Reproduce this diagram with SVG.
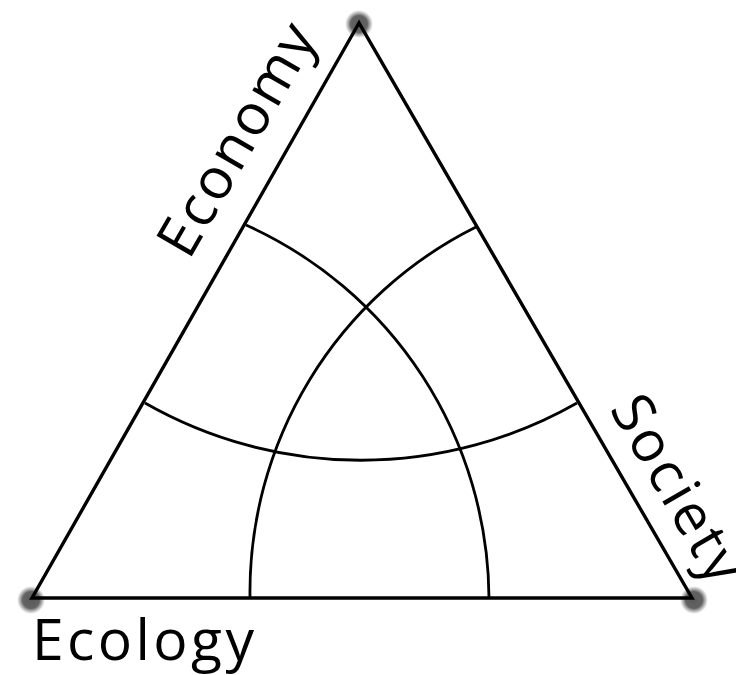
<svg xmlns="http://www.w3.org/2000/svg" width="736" height="675" viewBox="0 0 736 675">
<defs>
<radialGradient id="dg">
<stop offset="0" stop-color="#5a5a5a"/>
<stop offset="0.6" stop-color="#636363"/>
<stop offset="1" stop-color="#7a7a7a" stop-opacity="0"/>
</radialGradient>
<style>
.dot{fill:url(#dg)}
.edge{fill:none;stroke:#000;stroke-width:3.4;stroke-linejoin:miter}
.arc{fill:none;stroke:#000;stroke-width:2.8}
.lbl{font-family:"Open Sans","Noto Sans",sans-serif;font-size:57px;fill:#000}
</style>
</defs>
<rect width="736" height="675" fill="#fff"/>
<g id="dots">
<circle class="dot" cx="359" cy="24" r="14"/>
<circle class="dot" cx="31" cy="600" r="14"/>
<circle class="dot" cx="694" cy="600" r="14"/>
</g>
<g id="triangle">
<polygon class="edge" points="359,23 32,598 692,598"/>
</g>
<g id="connectors">
<path class="arc" d="M145,403 A436,436 0 0 0 577,403"/>
<path class="arc" d="M246,225 A412,412 0 0 1 489,598"/>
<path class="arc" d="M476,227 A408,408 0 0 0 250,598"/>
</g>
<g id="economy"><text class="lbl" transform="translate(189,261) rotate(-60)" textLength="258" lengthAdjust="spacing">Economy</text></g>
<g id="society"><text class="lbl" transform="translate(609,409) rotate(60)" textLength="206" lengthAdjust="spacing">Society</text></g>
<g id="ecology"><text class="lbl" x="32" y="660" textLength="222" lengthAdjust="spacing">Ecology</text></g>
</svg>
